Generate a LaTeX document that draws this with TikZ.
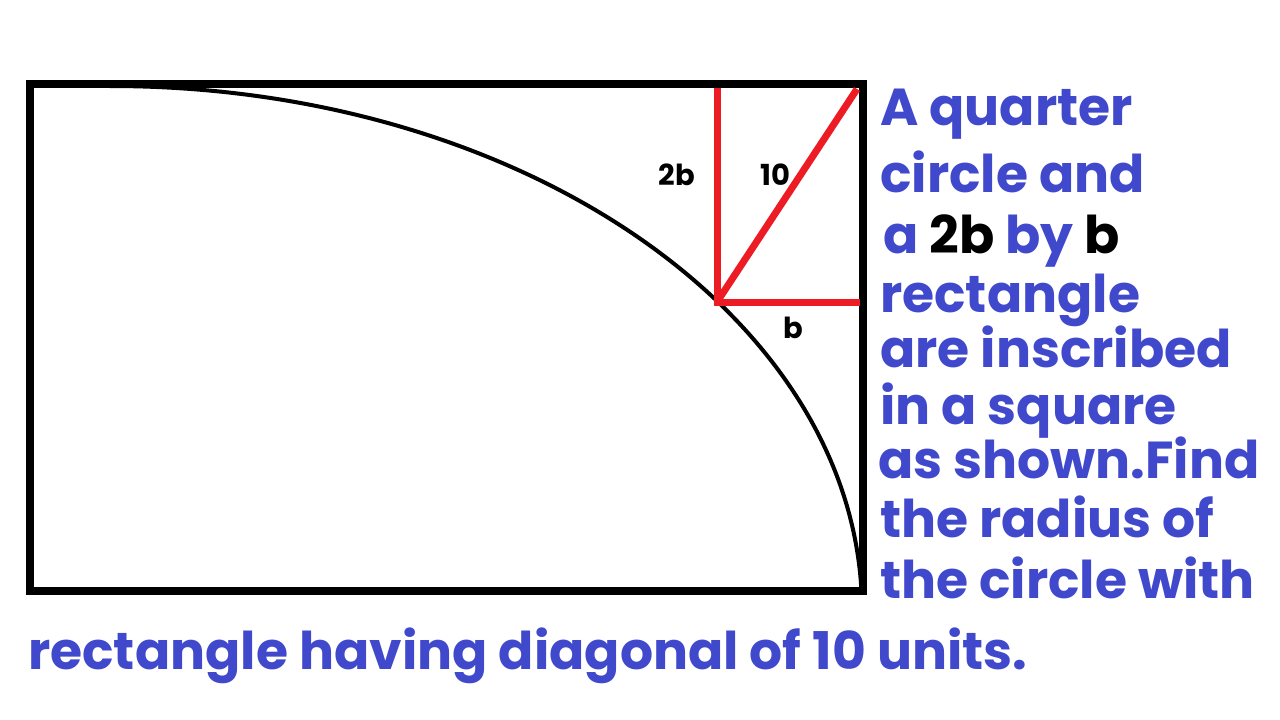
\documentclass[tikz,border=0pt]{standalone}
\usepackage{fontspec}
\setmainfont{Poppins}
\usetikzlibrary{positioning}
\definecolor{qblue}{RGB}{64,72,204}
\definecolor{qred}{RGB}{237,28,36}

\begin{document}
\begin{tikzpicture}[x=1pt,y=-1pt]
    \tikzstyle{every node}=[inner sep=0pt, anchor=base west]
    \tikzstyle{frame}=[line width=8pt]
    \tikzstyle{side}=[qred, line width=7pt]
    \tikzstyle{dim}=[font=\fontsize{29}{34}\selectfont\bfseries, anchor=center]
    \tikzstyle{words}=[qblue, font=\fontsize{52}{60}\selectfont\bfseries]

    \useasboundingbox (0,0) rectangle (1280,720);

    % the square and the quarter circle
    \coordinate (tl) at (29.5,83.5);
    \coordinate (br) at (862.5,591);
    \begin{scope}
        \clip (tl) rectangle (br);
        \draw[line width=4pt] (110,86) arc[start angle=-90, end angle=0, x radius=752, y radius=525];
    \end{scope}
    \draw[frame] (tl) rectangle (br);

    % the 2b by b rectangle
    \coordinate (c)  at (717,302);
    \coordinate (up) at (717,88);
    \coordinate (rt) at (860,302);
    \coordinate (tr) at (857,89);
    \draw[side] (up) -- (c) -- (rt);
    \draw[side] (c) -- (tr);

    \node[dim] (lab2b) at (677,175) {2b};
    \node[dim] (lab10) at (775,175) {10};
    \node[dim] (labb)  at (793,328) {b};

    % the question
    \node[words] (q1) at (880,125) {A quarter};
    \node[words] (q2) at (880,192) {circle and};
    \node[words] (q3) at (883,253) {a \textcolor{black}{2b} by \textcolor{black}{b}};
    \node[words] (q4) at (880,312) {rectangle};
    \node[words] (q5) at (880,367) {are inscribed};
    \node[words] (q6) at (880,424) {in a square};
    \node[words] (q7) at (878,478) {as shown.Find};
    \node[words] (q8) at (880,537) {the radius of};
    \node[words] (q9) at (880,598) {the circle with};
    \node[words] (q10) at (28,669) {rectangle having diagonal of 10 units.};
\end{tikzpicture}
\end{document}
